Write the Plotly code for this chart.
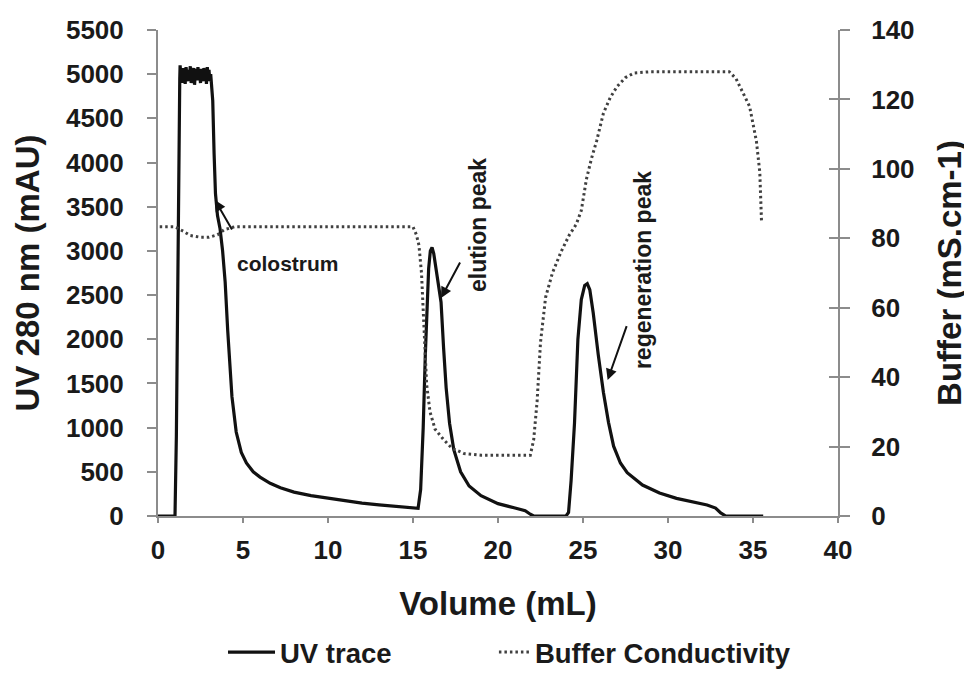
import plotly.graph_objects as go

# ---------------- data ----------------
uv_x = [0.0, 1.0, 1.08, 1.15, 1.22, 1.28,
        1.30, 1.35, 1.40, 1.45, 1.50, 1.55, 1.60, 1.65, 1.70, 1.75, 1.80, 1.85, 1.90, 1.95,
        2.00, 2.05, 2.10, 2.15, 2.20, 2.25, 2.30, 2.35, 2.40, 2.45, 2.50, 2.55, 2.60, 2.65,
        2.70, 2.75, 2.80, 2.85, 2.90, 2.95, 3.00, 3.05, 3.10, 3.15,
        3.22, 3.30, 3.38, 3.50, 3.65, 3.80, 3.95, 4.10, 4.35, 4.60, 4.90, 5.20, 5.60, 6.00,
        6.60, 7.20, 8.00, 9.00, 10.0, 11.0, 12.0, 13.0, 14.0, 15.0, 15.3,
        15.45, 15.6, 15.72, 15.82, 15.92, 16.02, 16.12, 16.22, 16.35, 16.5, 16.65, 16.8,
        16.95, 17.15, 17.4, 17.8, 18.3, 19.0, 20.0, 21.0, 21.6, 21.9, 22.1, 24.0,
        24.15, 24.3, 24.5, 24.7, 24.9, 25.1, 25.25, 25.4, 25.6, 25.9, 26.2, 26.5, 26.8,
        27.2, 27.6, 28.5, 29.5, 30.5, 31.5, 32.3, 32.8, 33.1, 33.4, 35.6]
uv_y = [0, 0, 900, 2600, 4300, 4950,
        5100, 4980, 5060, 4900, 5070, 4960, 4890, 5080, 5010, 4920, 5050, 4970, 5090, 4900,
        5040, 4950, 5070, 4880, 5020, 5060, 4930, 5080, 4970, 5030, 4900, 5060, 5000, 4920,
        5070, 4950, 5040, 4890, 5080, 4990, 5050, 4920, 5000, 4900,
        4700, 4100, 3650, 3400, 3250, 3000, 2650, 2100, 1350, 950, 720, 600, 500, 440,
        370, 320, 270, 230, 200, 170, 145, 125, 108, 92, 88,
        300, 1000, 1800, 2400, 2800, 3000, 3040, 2970, 2800, 2620, 2420, 1900,
        1450, 1050, 750, 500, 340, 230, 140, 90, 60, 20, 0, 0,
        40, 400, 1050, 2000, 2450, 2610, 2630, 2560, 2300, 1820, 1400, 1060, 790,
        600, 490, 350, 260, 200, 155, 124, 90, 35, 0, 0]

buf_x = [0.1, 1.0, 1.5, 1.9, 2.5, 3.0, 3.5, 3.9, 4.5, 10.0, 15.0, 15.2, 15.35, 15.5,
         15.6, 15.7, 15.8, 16.0, 16.3, 16.8, 17.3, 18.0, 19.0, 21.9, 22.1, 22.3, 22.5,
         22.8, 23.2, 23.7, 24.2, 24.6, 24.9, 25.2, 25.5, 25.8, 26.2, 26.6, 27.0, 27.5,
         28.0, 29.0, 33.6, 34.0, 34.3, 34.8, 35.2, 35.4, 35.5]
buf_y = [83.3, 83.3, 82.0, 80.8, 80.3, 80.3, 81.0, 82.5, 83.3, 83.3, 83.3, 81.0, 78.0, 70.0,
         60.0, 48.0, 38.0, 30.0, 25.0, 22.0, 19.5, 18.0, 17.5, 17.5, 22.0, 33.0, 50.0,
         63.0, 70.0, 76.0, 81.0, 84.0, 88.0, 97.0, 103.0, 108.0, 116.0, 120.5, 123.7, 126.3,
         127.6, 128.0, 128.0, 126.0, 123.0, 118.0, 108.0, 99.0, 85.0]

x_ticks = [0, 5, 10, 15, 20, 25, 30, 35, 40]
uv_ticks = [0, 500, 1000, 1500, 2000, 2500, 3000, 3500, 4000, 4500, 5000, 5500]
buf_ticks = [0, 20, 40, 60, 80, 100, 120, 140]

FONT = "Liberation Sans, Arial, sans-serif"
TXT = "#1a1a1a"
AX = "#8c8c8c"

fig = go.Figure()
fig.add_trace(go.Scatter(x=uv_x, y=uv_y, mode="lines", name="UV trace", legend="legend",
                         showlegend=True, line=dict(color="#111111", width=3.2)))
fig.add_trace(go.Scatter(x=buf_x, y=buf_y, mode="lines", name="Buffer Conductivity",
                         legend="legend2", yaxis="y2", showlegend=True,
                         line=dict(color="#404040", width=3, dash="2.5px,3px")))
# empty helper trace so the inner tick set of the right axis is drawn
fig.add_trace(go.Scatter(x=[], y=[], yaxis="y3", showlegend=False, hoverinfo="skip"))

leg_font = dict(size=27.5, family=FONT, color=TXT, weight="bold")
title_font = dict(size=33, family=FONT, color=TXT, weight="bold")
tick_font = dict(size=26, family=FONT, color=TXT, weight="bold")

fig.update_layout(
    width=964, height=669,
    margin=dict(l=150, r=134, t=22, b=161),
    paper_bgcolor="white", plot_bgcolor="white",
    showlegend=True,
    font=dict(family=FONT, size=26, color=TXT, weight="bold"),
    xaxis=dict(range=[0, 40], tickvals=x_ticks, showgrid=False, zeroline=False, automargin=False,
               showline=True, linecolor=AX, linewidth=2, ticks="outside", ticklen=5,
               tickcolor=AX, tickwidth=1.5, ticklabelstandoff=5, tickfont=tick_font,
               title=dict(text="Volume (mL)", font=title_font, standoff=28)),
    yaxis=dict(range=[0, 5500], tickvals=uv_ticks, showgrid=False, zeroline=False, automargin=False,
               showline=True, linecolor=AX, linewidth=2, ticks="outside", ticklen=9,
               tickcolor=AX, tickwidth=1.5, ticklabelstandoff=18, tickfont=tick_font,
               title=dict(text="UV 280 nm (mAU)", font=title_font, standoff=16)),
    yaxis2=dict(range=[0, 140], tickvals=buf_ticks, overlaying="y", side="right", automargin=False,
                showgrid=False, zeroline=False, showline=True, linecolor=AX, linewidth=2,
                ticks="outside", ticklen=10, tickcolor=AX, tickwidth=1.5, ticklabelstandoff=16,
                tickfont=tick_font,
                title=dict(text="Buffer (mS.cm-1)", font=title_font, standoff=24)),
    yaxis3=dict(range=[0, 140], tickvals=buf_ticks, overlaying="y", side="right", automargin=False,
                showgrid=False, zeroline=False, showline=False, showticklabels=False,
                ticks="inside", ticklen=9, tickcolor=AX, tickwidth=1.5),
    legend=dict(orientation="h", x=0.0956, xanchor="left", y=0.037, yref="container",
                yanchor="middle", font=leg_font, itemwidth=47, bgcolor="rgba(0,0,0,0)"),
    legend2=dict(orientation="h", x=0.494, xanchor="left", y=0.037, yref="container",
                 yanchor="middle", font=leg_font, itemwidth=31, bgcolor="rgba(0,0,0,0)"),
)

ann_font = dict(size=21, family=FONT, color=TXT, weight="bold")
rot_font = dict(size=23, family=FONT, color=TXT, weight="bold")
fig.add_annotation(x=7.65, y=2862, xref="x", yref="y", text="colostrum", showarrow=False, font=ann_font)
fig.add_annotation(x=18.82, y=3292, xref="x", yref="y", text="elution peak", showarrow=False,
                   textangle=-90, font=rot_font)
fig.add_annotation(x=28.53, y=2783, xref="x", yref="y", text="regeneration peak", showarrow=False,
                   textangle=-90, font=rot_font)

# arrows (head on curve, tail offset in px)
arrows = [(3.35, 3575, 22, 38), (16.65, 2466, 24, -45), (26.45, 1540, 24, -68)]
for hx, hy, ax, ay in arrows:
    fig.add_annotation(x=hx, y=hy, xref="x", yref="y", text=" ", showarrow=True,
                       ax=ax, ay=ay, arrowhead=2, arrowsize=1.1, arrowwidth=2,
                       arrowcolor="#111111", standoff=0, startstandoff=0)

fig.write_html("out.html")
